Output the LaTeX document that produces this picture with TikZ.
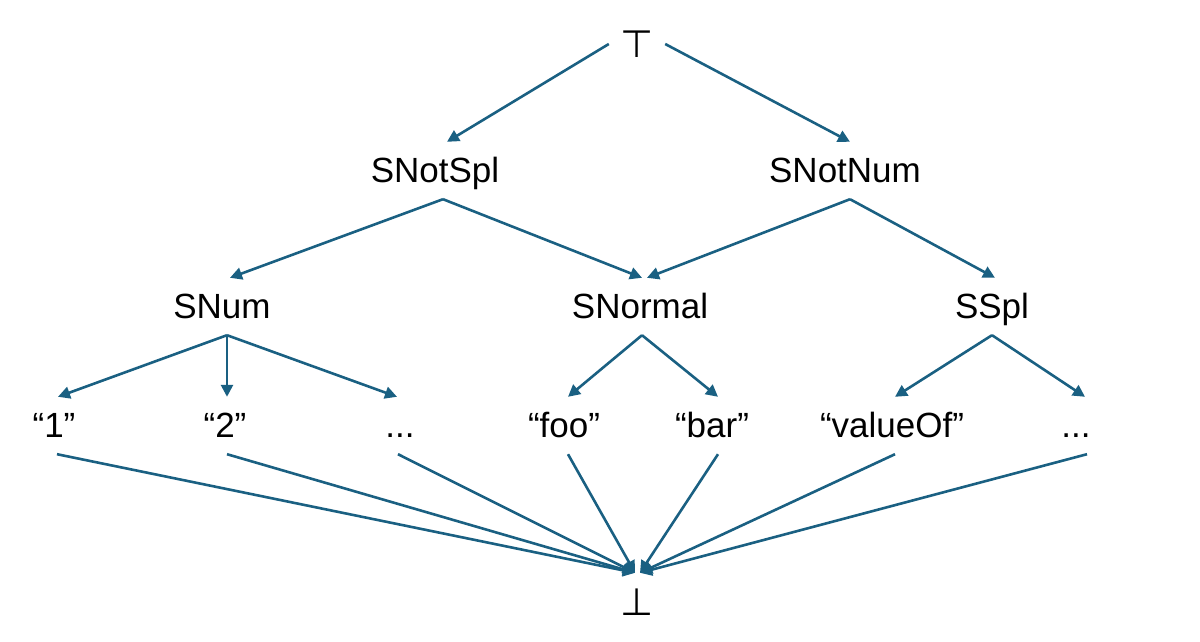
\documentclass[tikz,border=0pt]{standalone}
\usepackage{fontspec}
\setmainfont{Liberation Sans}
\newfontfamily\symfnt{DejaVu Sans}
\usetikzlibrary{arrows.meta,calc}
\definecolor{edgeblue}{RGB}{26,96,130}
\begin{document}
\begin{tikzpicture}[x=1pt,y=-1pt,
  lab/.style={font=\fontsize{35}{42}\selectfont, text height=25pt, text depth=2pt, inner ysep=15pt, inner xsep=2pt, anchor=base},
  sym/.style={font=\symfnt\fontsize{38}{44}\selectfont, inner sep=0pt},
  edge/.style={draw=edgeblue, line width=2.6pt, -{Triangle[length=12pt,width=12pt]}}]
\useasboundingbox (0,0) rectangle (1200,642);
% nodes
\node[sym, minimum width=56pt] (top) at (637,44) {⊤};
\node[sym, minimum height=58pt] (bot) at (637,602) {⊥};
\node[lab] (snotspl) at (435,182) {SNotSpl};
\node[lab] (snotnum) at (845,182) {SNotNum};
\node[lab] (snum) at (222,318) {SNum};
\node[lab] (snormal) at (640,318) {SNormal};
\node[lab] (sspl) at (992,318) {SSpl};
\node[lab] (l1) at (54,437) {“1”};
\node[lab] (l2) at (225,437) {“2”};
\node[lab] (l3) at (400,437) {...};
\node[lab] (foo) at (564,437) {“foo”};
\node[lab] (bar) at (712,437) {“bar”};
\node[lab] (valueof) at (892,437) {“valueOf”};
\node[lab] (l7) at (1076,437) {...};
% top level
\draw[edge] (top.west) -- ($(snotspl.north)+(12,0)$);
\draw[edge] (top.east) -- ($(snotnum.north)+(5,0)$);
% second level
\draw[edge] ($(snotspl.south)+(8,0)$) -- ($(snum.north)+(8,0)$);
\draw[edge] ($(snotspl.south)+(8,0)$) -- ($(snormal.north)+(2,0)$);
\draw[edge] ($(snotnum.south)+(5,0)$) -- ($(snormal.north)+(7,0)$);
\draw[edge] ($(snotnum.south)+(5,0)$) -- ($(sspl.north)+(3,0)$);
% third level
\draw[edge] ($(snum.south)+(5,0)$) -- ($(l1.north)+(4,0)$);
\draw[edge] ($(snum.south)+(5,0)$) -- ($(l2.north)+(2,0)$);
\draw[edge] ($(snum.south)+(5,0)$) -- ($(l3.north)+(-3,0)$);
\draw[edge] ($(snormal.south)+(2,0)$) -- ($(foo.north)+(4,0)$);
\draw[edge] ($(snormal.south)+(2,0)$) -- ($(bar.north)+(6,0)$);
\draw[edge] (sspl.south) -- ($(valueof.north)+(3,0)$);
\draw[edge] (sspl.south) -- ($(l7.north)+(9,0)$);
% to bottom
\draw[edge] ($(l1.south)+(3,0)$) -- ($(bot.north)+(-2,0)$);
\draw[edge] ($(l2.south)+(2,0)$) -- ($(bot.north)+(-2,0)$);
\draw[edge] ($(l3.south)+(-2,0)$) -- ($(bot.north)+(-2,0)$);
\draw[edge] ($(foo.south)+(4,0)$) -- ($(bot.north)+(-2,0)$);
\draw[edge] ($(bar.south)+(6,0)$) -- ($(bot.north)+(3,0)$);
\draw[edge] ($(valueof.south)+(3,0)$) -- ($(bot.north)+(3,0)$);
\draw[edge] ($(l7.south)+(11,0)$) -- ($(bot.north)+(3,0)$);
\end{tikzpicture}
\end{document}
